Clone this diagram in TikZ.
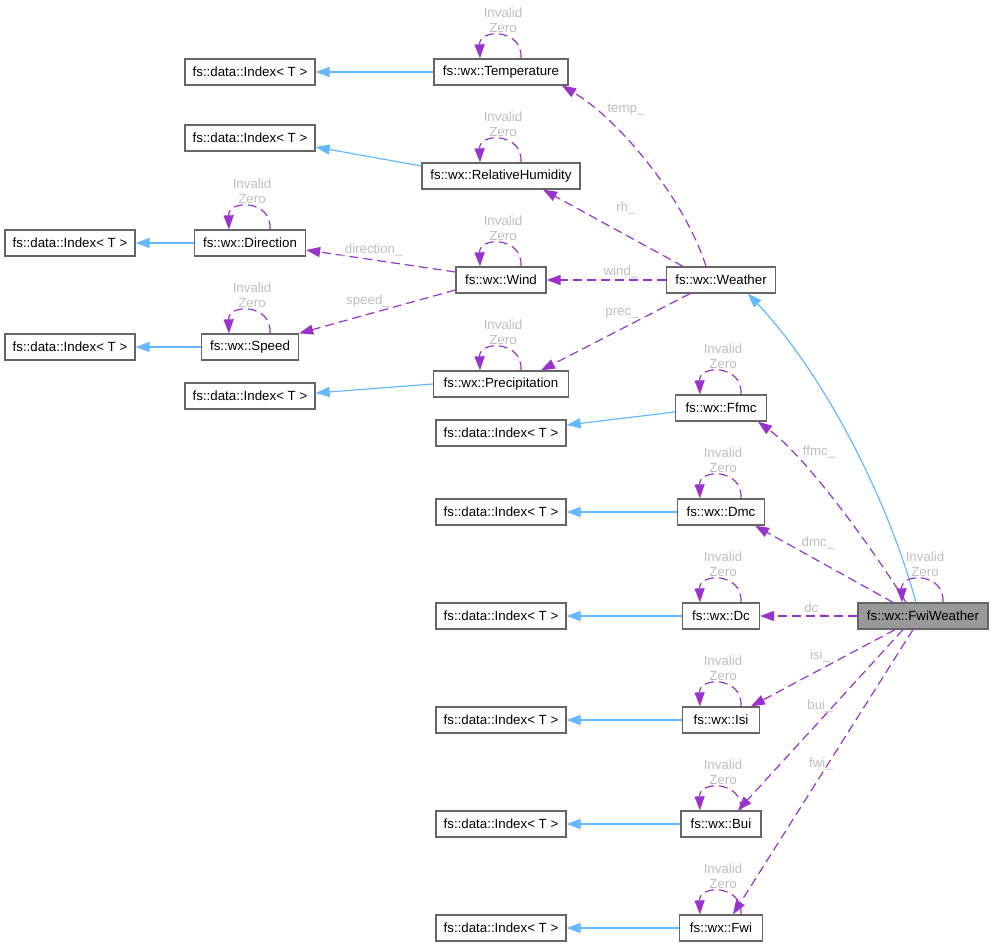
\documentclass[tikz,border=0pt]{standalone}
\usepackage{fontspec}
\setmainfont{Liberation Sans}
\usetikzlibrary{arrows.meta,calc}
\definecolor{edgep}{HTML}{9A32CD}
\definecolor{inh}{HTML}{63B8FF}
\definecolor{bord}{HTML}{666666}
\definecolor{lbl}{HTML}{BEBEBE}
\definecolor{fillg}{HTML}{999999}
\tikzset{
 cls/.style={draw=bord, line width=1.3pt, fill=white, inner sep=0pt, minimum height=26, font=\fontsize{13.3}{15}\selectfont},
 dep/.style={draw=edgep, line width=1.2pt, dash pattern=on 9pt off 5pt, -{Triangle[length=14pt,width=10pt]}},
 inhr/.style={draw=inh, line width=1.2pt, -{Triangle[length=14pt,width=10pt]}},
 elab/.style={text=lbl, font=\fontsize{13.3}{14.5}\selectfont, inner sep=0pt, align=center},
}
\newcommand{\myloop}[1]{%
 \draw[dep] ($(#1.north)+(20,0)$) .. controls ($(#1.north)+(22,-30)$) and ($(#1.north)+(-22,-30)$) .. ($(#1.north)+(-21,0)$);
 \node[elab] at ($(#1.north)+(2,-38)$) {Invalid\\Zero};}
\begin{document}
\begin{tikzpicture}[x=1pt,y=-1pt]
\useasboundingbox (0,0) rectangle (994,946);
% index nodes
\node[cls, minimum width=130] (i1) at (250,72) {fs::data::Index< T >};
\node[cls, minimum width=130] (i2) at (250,138) {fs::data::Index< T >};
\node[cls, minimum width=130] (i3) at (70,243) {fs::data::Index< T >};
\node[cls, minimum width=130] (i4) at (70,347) {fs::data::Index< T >};
\node[cls, minimum width=130] (i5) at (250,396) {fs::data::Index< T >};
\node[cls, minimum width=130] (i6) at (501,433) {fs::data::Index< T >};
\node[cls, minimum width=130] (i7) at (501,512) {fs::data::Index< T >};
\node[cls, minimum width=130] (i8) at (501,616) {fs::data::Index< T >};
\node[cls, minimum width=130] (i9) at (501,720) {fs::data::Index< T >};
\node[cls, minimum width=130] (i10) at (501,824) {fs::data::Index< T >};
\node[cls, minimum width=130] (i11) at (501,928) {fs::data::Index< T >};
% classes
\node[cls, minimum width=134] (temp) at (501,72) {fs::wx::Temperature};
\node[cls, minimum width=158] (rh) at (501,176) {fs::wx::RelativeHumidity};
\node[cls, minimum width=111] (dir) at (250,243) {fs::wx::Direction};
\node[cls, minimum width=90] (wind) at (501,280) {fs::wx::Wind};
\node[cls, minimum width=109] (weather) at (721,280) {fs::wx::Weather};
\node[cls, minimum width=97] (speed) at (250,347) {fs::wx::Speed};
\node[cls, minimum width=135] (prec) at (501,384) {fs::wx::Precipitation};
\node[cls, minimum width=91] (ffmc) at (721,408) {fs::wx::Ffmc};
\node[cls, minimum width=87] (dmc) at (721,512) {fs::wx::Dmc};
\node[cls, minimum width=77] (dc) at (721,616) {fs::wx::Dc};
\node[cls, minimum width=130, fill=fillg] (fw) at (923,616) {fs::wx::FwiWeather};
\node[cls, minimum width=77] (isi) at (721,720) {fs::wx::Isi};
\node[cls, minimum width=80] (bui) at (721,824) {fs::wx::Bui};
\node[cls, minimum width=83] (fwi) at (721,928) {fs::wx::Fwi};
% inheritance
\draw[inhr] (temp.west) -- (i1.east);
\draw[inhr] ([yshift=10]rh.west) -- ([yshift=-9]i2.east);
\draw[inhr] (dir.west) -- (i3.east);
\draw[inhr] (speed.west) -- (i4.east);
\draw[inhr] (prec.west) -- ([yshift=3]i5.east);
\draw[inhr] ([yshift=-4]ffmc.west) -- ([yshift=8]i6.east);
\draw[inhr] (dmc.west) -- (i7.east);
\draw[inhr] (dc.west) -- (i8.east);
\draw[inhr] (isi.west) -- (i9.east);
\draw[inhr] (bui.west) -- (i10.east);
\draw[inhr] (fwi.west) -- (i11.east);
\draw[inhr] ([xshift=-7]fw.north) .. controls (885,490) and (820,370) .. ([xshift=27]weather.south);
% self loops
\myloop{temp}
\myloop{rh}
\myloop{dir}
\myloop{wind}
\myloop{speed}
\myloop{prec}
\myloop{ffmc}
\myloop{dmc}
\myloop{dc}
\myloop{fw}
\myloop{isi}
\myloop{bui}
\myloop{fwi}
% dependencies
\draw[dep] ([xshift=-15]weather.north) .. controls (685,200) and (620,120) .. ([xshift=61]temp.south);
\draw[dep] ([xshift=-38]weather.north) -- ([xshift=42]rh.south);
\draw[dep] (weather.west) -- (wind.east);
\draw[dep] ([xshift=-31]weather.south) -- ([xshift=40]prec.north);
\draw[dep] ([yshift=8]wind.west) -- ([yshift=-7]dir.east);
\draw[dep] ([yshift=-10]wind.west) -- (speed.north east);
\draw[dep] ([xshift=-17]fw.north) .. controls (880,560) and (810,460) .. ([xshift=37]ffmc.south);
\draw[dep] ([xshift=-30]fw.north) -- ([xshift=34]dmc.south);
\draw[dep] (fw.west) -- (dc.east);
\draw[dep] ([xshift=-28]fw.south) -- ([xshift=30]isi.north);
\draw[dep] ([xshift=-20]fw.south) -- ([xshift=17]bui.north);
\draw[dep] ([xshift=-10]fw.south) -- ([xshift=12]fwi.north);
% labels
\node[elab] (ltemp) at (626,110) {temp\_};
\node[elab] (lrh) at (626,208) {rh\_};
\node[elab] (lwind) at (621,272) {wind\_};
\node[elab] (lprec) at (622,313) {prec\_};
\node[elab] (ldir) at (370,250) {\_direction\_};
\node[elab] (lspeed) at (368,301) {speed\_};
\node[elab] (lffmc) at (819,452) {ffmc\_};
\node[elab] (ldmc) at (818,543) {dmc\_};
\node[elab] (ldc) at (815,609) {dc\_};
\node[elab] (lisi) at (820,656) {isi\_};
\node[elab] (lbui) at (820,706) {bui\_};
\node[elab] (lfwi) at (821,764) {fwi\_};
\end{tikzpicture}
\end{document}
